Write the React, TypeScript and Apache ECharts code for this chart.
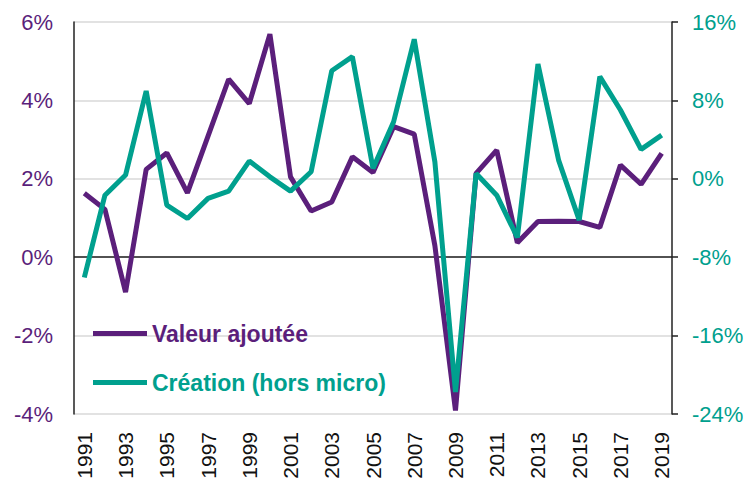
import React, { useEffect, useRef } from "react";
import * as echarts from "echarts";

const years = [
  "1991","1992","1993","1994","1995","1996","1997","1998","1999","2000",
  "2001","2002","2003","2004","2005","2006","2007","2008","2009","2010",
  "2011","2012","2013","2014","2015","2016","2017","2018","2019",
];

// Valeur ajoutée (left axis, %)
const valeurAjoutee = [
  1.63, 1.22, -0.89, 2.24, 2.66, 1.64, 3.09, 4.54, 3.92, 5.69,
  2.05, 1.18, 1.41, 2.56, 2.16, 3.33, 3.14, 0.3, -3.91, 2.14,
  2.73, 0.37, 0.91, 0.92, 0.91, 0.76, 2.35, 1.86, 2.65,
];

// Création (hors micro) (right axis, %)
const creation = [
  -10.07, -1.67, 0.38, 8.96, -2.69, -4.05, -2.0, -1.26, 1.81, 0.2,
  -1.26, 0.72, 11.03, 12.46, 1.06, 5.82, 14.24, 1.74, -21.76, 0.55,
  -1.67, -5.99, 11.72, 1.91, -4.22, 10.42, 7.02, 3.0, 4.46,
];

const seriesNames = ["Valeur ajoutée", "Création (hors micro)"];
const PURPLE = "#5B1F7B";
const TEAL = "#00A08E";
const FONT = "Liberation Sans, Arial, sans-serif";

export default function App() {
  const ref = useRef<HTMLDivElement>(null);
  useEffect(() => {
    if (!ref.current) return;
    const chart = echarts.init(ref.current, null, { renderer: "svg" });
    chart.setOption({
      animation: false,
      backgroundColor: "#fff",
      grid: { left: 74, right: 77, top: 22, bottom: 68, containLabel: false },
      legend: {
        orient: "vertical",
        left: 93,
        top: 322,
        padding: 0,
        itemWidth: 54,
        itemHeight: 5,
        itemGap: 26,
        icon: "rect",
        textStyle: { fontFamily: FONT, fontSize: 23, fontWeight: "bold" },
        data: [
          { name: seriesNames[0], textStyle: { color: PURPLE } },
          { name: seriesNames[1], textStyle: { color: TEAL } },
        ],
      },
      xAxis: {
        type: "category",
        data: years,
        boundaryGap: true,
        axisLine: { show: false },
        axisTick: { show: false },
        axisLabel: {
          rotate: 90,
          interval: 1,
          margin: 18,
          fontFamily: FONT,
          fontSize: 21,
          color: "#111",
        },
      },
      yAxis: [
        {
          type: "value",
          min: -4,
          max: 6,
          interval: 2,
          axisLine: { show: true, lineStyle: { color: "#222", width: 1.5 } },
          axisTick: { show: false },
          axisLabel: {
            formatter: "{value}%",
            margin: 21,
            fontFamily: FONT,
            fontSize: 22,
            color: PURPLE,
          },
          splitLine: { show: true, lineStyle: { color: "#d9d9d9", width: 1.5 } },
        },
        {
          type: "value",
          min: -24,
          max: 16,
          interval: 8,
          position: "right",
          axisLine: { show: true, lineStyle: { color: "#222", width: 1.5 } },
          axisTick: { show: true, inside: false, length: 6, lineStyle: { color: "#222", width: 1.5 } },
          axisLabel: {
            formatter: "{value}%",
            margin: 20,
            fontFamily: FONT,
            fontSize: 22,
            color: TEAL,
          },
          splitLine: { show: false },
        },
      ],
      series: [
        {
          name: seriesNames[1],
          type: "line",
          yAxisIndex: 1,
          data: creation,
          showSymbol: false,
          symbol: "none",
          lineStyle: { color: TEAL, width: 5 },
          itemStyle: { color: TEAL },
          z: 3,
        },
        {
          name: seriesNames[0],
          type: "line",
          yAxisIndex: 0,
          data: valeurAjoutee,
          showSymbol: false,
          symbol: "none",
          lineStyle: { color: PURPLE, width: 5 },
          itemStyle: { color: PURPLE },
          z: 2,
          markLine: {
            silent: true,
            symbol: "none",
            label: { show: false },
            lineStyle: { color: "#222", width: 1.5, type: "solid" },
            data: [{ yAxis: 0 }],
            z: 1,
          },
        },
      ],
    });
    return () => chart.dispose();
  }, []);
  return <div ref={ref} style={{ width: 749, height: 482, position: "absolute", left: 0, top: 0 }} />;
}
